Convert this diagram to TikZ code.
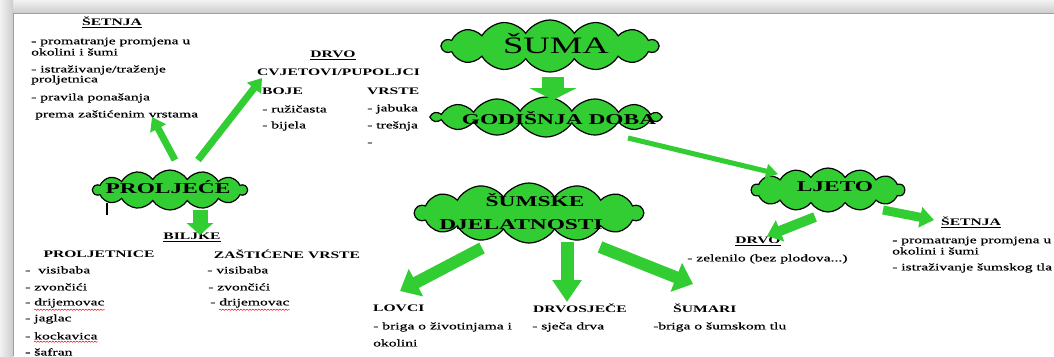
\documentclass[tikz,border=0pt]{standalone}
\usepackage{fontspec}
\setmainfont{Liberation Serif}
\newfontfamily\wfont[FakeStretch=1.56]{Liberation Serif}
\newfontfamily\ifont[FakeStretch=1.56, FakeBold=0.6]{Liberation Serif}
\usetikzlibrary{shapes.symbols,arrows.meta,decorations.pathmorphing,calc}
\definecolor{cgreen}{RGB}{50,205,50}
\tikzset{
  it/.style={anchor=west, inner sep=0pt, font=\ifont\fontsize{10}{10}\selectfont},
  hd/.style={inner sep=0pt, font=\wfont\bfseries\fontsize{10}{10}\selectfont},
  ct/.style={inner sep=0pt, font=\wfont\bfseries\fontsize{15}{15}\selectfont},
  cl/.style={cloud, cloud puffs=14, cloud puff arc=115, cloud ignores aspect, draw=black, line width=1.2pt, fill=cgreen, inner sep=0pt},
  ga/.style n args={3}{draw=cgreen, line width=#1, line cap=butt, -{Triangle[width=#2,length=#3]}},
  wavy/.style={draw=red, line width=0.5pt, decorate, decoration={snake, amplitude=0.6pt, segment length=3pt}}
}
\begin{document}
\begin{tikzpicture}[x=1pt,y=-1pt]
\useasboundingbox (0,0) rectangle (1054,356);
\fill[white] (0,0) rectangle (1054,356);
% frame shadow
\fill[top color=gray!10, bottom color=gray!40] (0,0) rectangle (1054,13);
\fill[left color=gray!10, right color=gray!40] (0,0) rectangle (13,356);
\draw[gray!75, line width=0.8pt] (13,356) -- (13,13) -- (1054,13);

% clouds
\node[cl, minimum width=216pt, minimum height=52pt] (suma) at (550,46) {};
\node[font=\wfont\fontsize{23.5}{23.5}\selectfont, inner sep=0pt] (sumat) at (556,44) {ŠUMA};
\node[cl, minimum width=228pt, minimum height=40pt] (doba) at (546,117) {};
\node[ct] (dobat) at (559,118) {GODIŠNJA DOBA};
\node[cl, minimum width=153pt, minimum height=44pt] (ljeto) at (828,190) {};
\node[ct] (ljetot) at (835,187) {LJETO};
\node[cl, minimum width=228pt, minimum height=60pt] (sdj) at (529,213) {};
\node[ct] (sdjt1) at (535,200) {ŠUMSKE};
\node[ct] (sdjt2) at (521,225) {DJELATNOSTI};
\node[cl, minimum width=154pt, minimum height=40pt] (prolj) at (170,190) {};
\node[ct] (proljt) at (168,187) {PROLJEĆE};
\draw[line width=1.3pt] (107,203) -- (107,215);

% left top ŠETNJA
\node[hd] (s0) at (112,22) {\underline{ŠETNJA}};
\node[it] (s1) at (31,42) {- promatranje promjena u};
\node[it] (s2) at (31,52) {okolini i šumi};
\node[it] (s3) at (31,70) {- istraživanje/traženje};
\node[it] (s4) at (31,80) {proljetnica};
\node[it] (s5) at (31,98) {- pravila ponašanja};
\node[it] (s6) at (35,115) {prema zaštićenim vrstama};

% DRVO top
\node[hd] (d0) at (333,55) {\underline{DRVO}};
\node[hd, anchor=west] (d1) at (257,72) {CVJETOVI/PUPOLJCI};
\node[hd, anchor=west] (d2) at (262,91) {BOJE};
\node[it] (d3) at (262,109) {- ružičasta};
\node[it] (d4) at (262,126) {- bijela};
\node[hd, anchor=west] (d5) at (367,91) {VRSTE};
\node[it] (d6) at (367,109) {- jabuka};
\node[it] (d7) at (367,126) {- trešnja};
\node[it] (d8) at (367,144) {-};

% BILJKE
\node[hd] (b0) at (192,237) {\underline{BILJKE}};
\node[hd] (b1) at (99,254) {PROLJETNICE};
\node[hd] (b2) at (287,254) {ZAŠTIĆENE VRSTE};
\node[it] (l1) at (25,270) {-\ \ visibaba};
\node[it] (l2) at (25,287) {- zvončići};
\node[it] (l3) at (25,303) {- drijemovac};
\node[it] (l4) at (25,319) {- jaglac};
\node[it] (l5) at (25,336) {- kockavica};
\node[it] (l6) at (25,352) {- šafran};
\node[it] (r1) at (207,270) {- visibaba};
\node[it] (r2) at (208,287) {- zvončići};
\node[it] (r3) at (210,303) {- drijemovac};
\draw[wavy] ($(l3.south west)+(9,2)$) -- ($(l3.south east)+(0,2)$);
\draw[wavy] ($(r3.south west)+(9,2)$) -- ($(r3.south east)+(0,2)$);
\draw[wavy] ($(l5.south west)+(9,2)$) -- ($(l5.south east)+(0,2)$);

% LJETO side
\node[hd] (j0) at (758,241) {\underline{DRVO}};
\node[it] (j1) at (687,259) {- zelenilo (bez plodova...)};
\node[hd] (k0) at (971,222) {\underline{ŠETNJA}};
\node[it] (k1) at (892,241) {- promatranje promjena u};
\node[it] (k2) at (892,251) {okolini i šumi};
\node[it] (k3) at (892,268) {- istraživanje šumskog tla};

% ŠUMSKE DJELATNOSTI side
\node[hd, anchor=west] (v0) at (373,308) {LOVCI};
\node[it] (v1) at (373,327) {- briga o životinjama i};
\node[it] (v2) at (373,343) {okolini};
\node[hd, anchor=west] (w0) at (533,308) {DRVOSJEČE};
\node[it] (w1) at (532,327) {- sječa drva};
\node[hd, anchor=west] (u0) at (673,308) {ŠUMARI};
\node[it] (u1) at (653,327) {-briga o šumskom tlu};

% arrow end coordinates
\coordinate (a1s) at (553,77);  \coordinate (a1e) at (553,100);
\coordinate (a2s) at (628,138); \coordinate (a2e) at (778,174);
\coordinate (a3s) at (815,217); \coordinate (a3e) at (767,236);
\coordinate (a4s) at (883,210); \coordinate (a4e) at (934,220);
\coordinate (a5s) at (482,248); \coordinate (a5e) at (400,291);
\coordinate (a6s) at (567,242); \coordinate (a6e) at (567,302);
\coordinate (a7s) at (600,247); \coordinate (a7e) at (693,284);
\coordinate (a8s) at (175,160); \coordinate (a8e) at (152,117);
\coordinate (a9s) at (198,160); \coordinate (a9e) at (262,78);
\coordinate (a10s) at (200,210); \coordinate (a10e) at (200,235);

\draw[ga={22pt}{47pt}{12pt}] (a1s) -- (a1e);
\draw[ga={5pt}{14pt}{12pt}] (a2s) -- (a2e);
\draw[ga={10pt}{22pt}{14pt}] (a3s) -- (a3e);
\draw[ga={9pt}{20pt}{14pt}] (a4s) -- (a4e);
\draw[ga={12pt}{30pt}{18pt}] (a5s) -- (a5e);
\draw[ga={13pt}{28pt}{22pt}] (a6s) -- (a6e);
\draw[ga={12pt}{30pt}{18pt}] (a7s) -- (a7e);
\draw[ga={7pt}{17pt}{13pt}] (a8s) -- (a8e);
\draw[ga={7pt}{17pt}{13pt}] (a9s) -- (a9e);
\draw[ga={15pt}{26pt}{12pt}] (a10s) -- (a10e);
\end{tikzpicture}
\end{document}
